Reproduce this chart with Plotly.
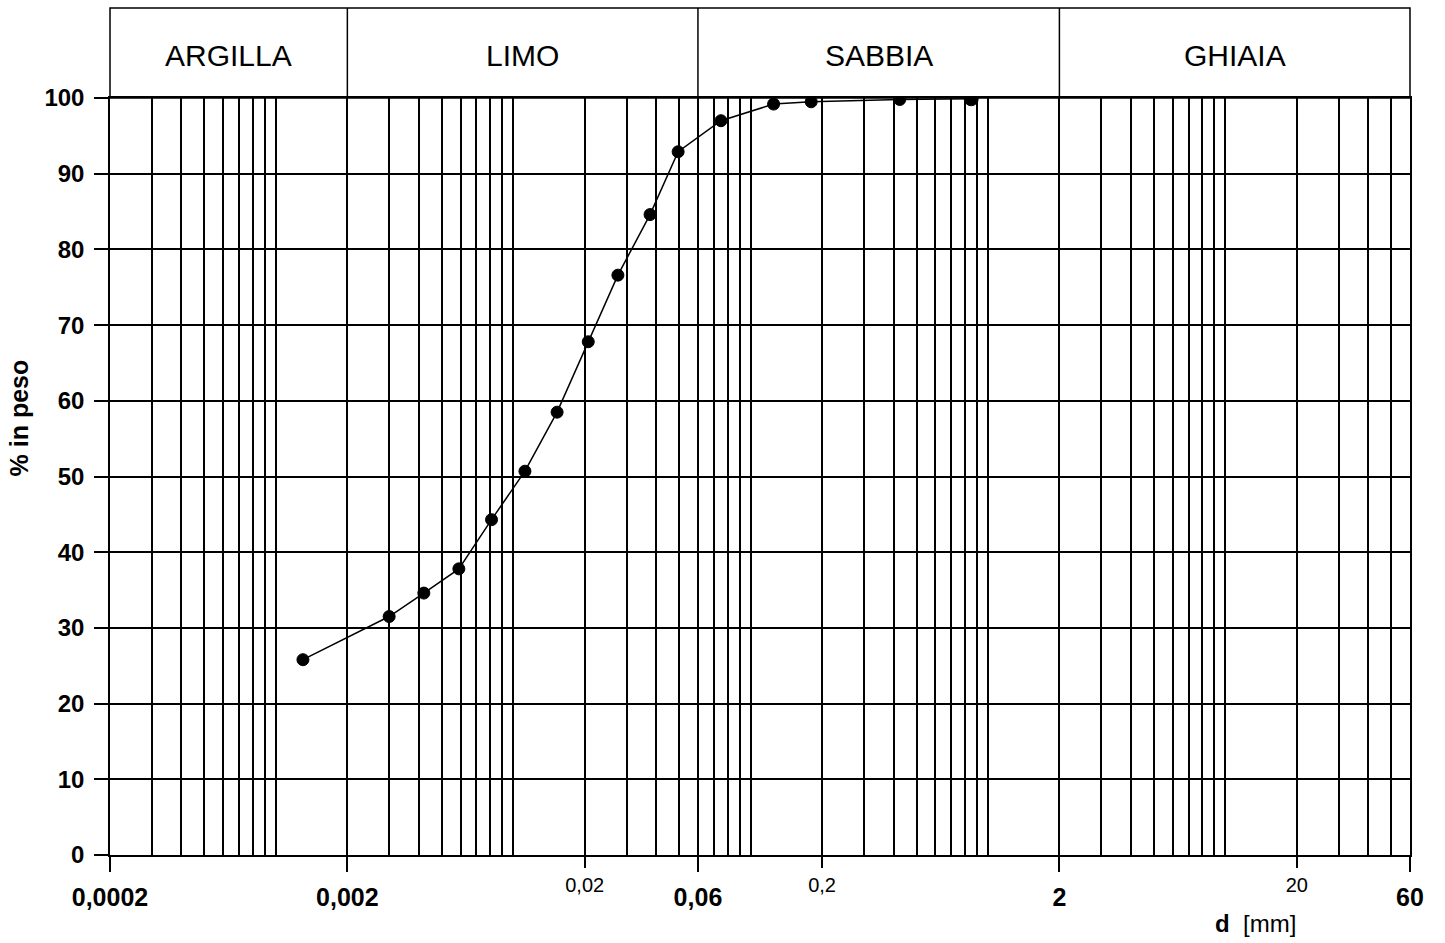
import math
import plotly.graph_objects as go

# Grain size distribution (hydrometer + sieve)
diam_mm = [0.0013, 0.0030, 0.0042, 0.0059, 0.0081, 0.0112, 0.0153, 0.0207,
           0.0276, 0.0377, 0.0495, 0.075, 0.125, 0.18, 0.425, 0.85]
passing_pct = [25.8, 31.5, 34.6, 37.8, 44.3, 50.7, 58.5, 67.8,
               76.6, 84.6, 92.9, 97.0, 99.2, 99.5, 99.8, 99.9]

class_names = ["ARGILLA", "LIMO", "SABBIA", "GHIAIA"]
class_limits = [0.0002, 0.002, 0.06, 2, 60]

major_ticks = [0.0002, 0.002, 0.06, 2, 60]
major_text = ["0,0002", "0,002", "0,06", "2", "60"]
minor_ticks = [0.02, 0.2, 20]
minor_text = ["0,02", "0,2", "20"]
y_ticks = [0, 10, 20, 30, 40, 50, 60, 70, 80, 90, 100]

X_MIN, X_MAX = class_limits[0], class_limits[-1]
LOG_MIN, LOG_MAX = math.log10(X_MIN), math.log10(X_MAX)

# log-paper grid: 1..9 x 10^e within the axis range
grid_x = sorted({round(k * 10 ** e, 10) for e in range(-4, 2) for k in range(1, 10)
                 if X_MIN <= k * 10 ** e <= X_MAX * 1.0000001})


def xfrac(v):
    return (math.log10(v) - LOG_MIN) / (LOG_MAX - LOG_MIN)


FONT = "Liberation Sans, Arial, Helvetica, sans-serif"
LW = 1.5
HEADER_TOP = 1.119

fig = go.Figure()
fig.add_trace(go.Scatter(
    x=diam_mm, y=passing_pct, mode="lines+markers",
    line=dict(color="black", width=1.5),
    marker=dict(color="#000000", opacity=1, symbol="circle",
                size=[12] * (len(diam_mm) - 1) + [14],
                line=dict(color="#000000", width=1)),
    showlegend=False, hoverinfo="skip"))
# carriers for the labelled tick axes
fig.add_trace(go.Scatter(x=[], y=[], xaxis="x2", showlegend=False))
fig.add_trace(go.Scatter(x=[], y=[], xaxis="x3", showlegend=False))

fig.update_layout(
    width=1445, height=943,
    margin=dict(l=110, r=35, t=98, b=88),
    paper_bgcolor="white", plot_bgcolor="white",
    font=dict(family=FONT, color="black"),
    xaxis=dict(type="log", range=[LOG_MIN, LOG_MAX], tickvals=grid_x,
               showticklabels=False, ticks="", showgrid=True,
               gridcolor="black", gridwidth=LW, zeroline=False,
               showline=True, linecolor="black", linewidth=LW, mirror=True),
    xaxis2=dict(type="log", range=[LOG_MIN, LOG_MAX], overlaying="x",
                anchor="y", side="bottom", tickvals=major_ticks,
                ticktext=major_text, ticks="outside", ticklen=16,
                tickwidth=LW, tickcolor="black", showgrid=False,
                showline=False, zeroline=False, ticklabelstandoff=4,
                tickfont=dict(family=FONT, size=25, weight="bold", color="black")),
    xaxis3=dict(type="log", range=[LOG_MIN, LOG_MAX], overlaying="x",
                anchor="y", side="bottom", tickvals=minor_ticks,
                ticktext=minor_text, ticks="outside", ticklen=12,
                tickwidth=LW, tickcolor="black", showgrid=False,
                showline=False, zeroline=False,
                tickfont=dict(family=FONT, size=20, color="black")),
    yaxis=dict(range=[0, 100], tickvals=y_ticks, ticks="outside", ticklen=14,
               tickwidth=LW, tickcolor="black", showgrid=True,
               gridcolor="black", gridwidth=LW, zeroline=False,
               showline=True, linecolor="black", linewidth=LW, mirror=True,
               ticklabelstandoff=5,
               tickfont=dict(family=FONT, size=24, weight="bold", color="black")),
)

# soil class header band above the chart
shapes = [dict(type="rect", xref="paper", yref="paper", x0=0, x1=1,
               y0=1, y1=HEADER_TOP, line=dict(color="black", width=LW))]
for lim in class_limits[1:-1]:
    shapes.append(dict(type="line", xref="paper", yref="paper",
                       x0=xfrac(lim), x1=xfrac(lim), y0=1, y1=HEADER_TOP,
                       line=dict(color="black", width=LW)))
fig.update_layout(shapes=shapes)

annotations = []
for name, lo, hi in zip(class_names, class_limits[:-1], class_limits[1:]):
    annotations.append(dict(
        xref="paper", yref="paper", x=(xfrac(lo) + xfrac(hi)) / 2,
        y=(1 + HEADER_TOP) / 2 - 0.004, text=name, showarrow=False,
        xanchor="center", yanchor="middle",
        font=dict(family=FONT, size=30, color="black")))
annotations.append(dict(
    xref="paper", yref="paper", x=(1213 - 110) / 1300, y=-0.09,
    text="<b>d</b>\u00a0 [mm]", showarrow=False, xanchor="left",
    yanchor="middle", font=dict(family=FONT, size=24, color="black")))
annotations.append(dict(
    xref="paper", yref="paper", x=-0.07, y=0.578, text="<b>% in peso</b>",
    textangle=-90, showarrow=False, xanchor="center", yanchor="middle",
    font=dict(family=FONT, size=25, color="black")))
fig.update_layout(annotations=annotations)

fig.write_html("out.html")
